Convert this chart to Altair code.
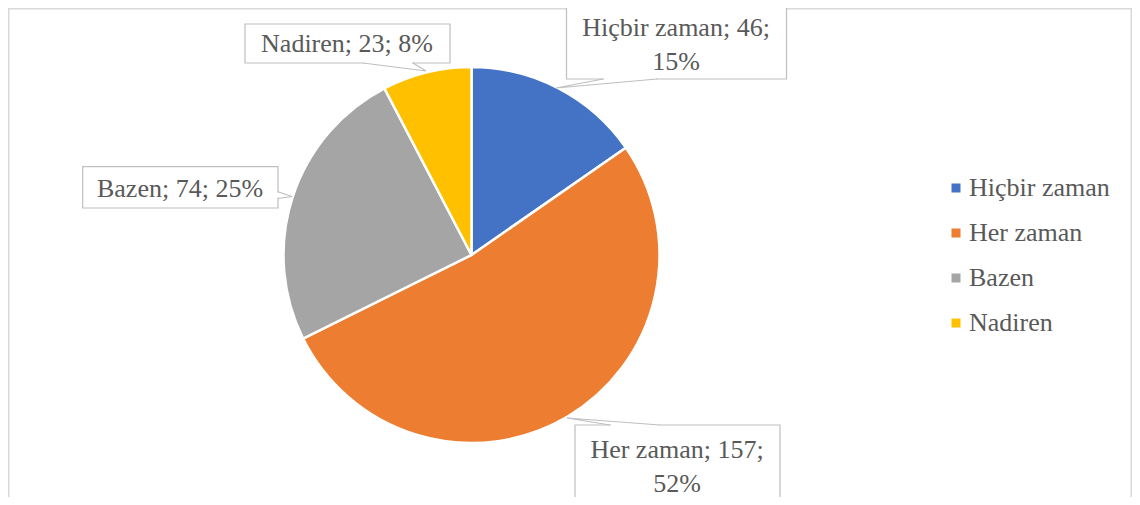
import altair as alt
import pandas as pd

# ---- data ----
categories = ["Hiçbir zaman", "Her zaman", "Bazen", "Nadiren"]
counts = [46, 157, 74, 23]
colors = ["#4472C4", "#ED7D31", "#A5A5A5", "#FFC000"]
wrap_after_second = [True, True, False, False]   # label text wrapped onto two lines

total = sum(counts)
percents = [round(100 * c / total) for c in counts]

# ---- layout (pixel positions, plot coords) ----
W, H = 1124, 489
CX, CY, R = 463.5, 247, 188
FONT = "Liberation Serif"
TXT = "#595959"
BOX = "#BFBFBF"

# label text centers (first line)
label_x = [668, 669, 172, 339]
label_y = [20, 442, 181, 36]
# callout boxes
box_x0 = [558.5, 567, 74.7, 237]
box_x1 = [778.5, 772, 270, 442]
box_y0 = [-1, 417, 158.7, 16]
box_y1 = [71, 491, 200, 55]
# pointer: base1, tip, base2
ptr_b1 = [(595, 71), (602, 417), (270, 183.7), (355, 55)]
ptr_tip = [(548, 80), (559, 410), (284, 188.5), (418, 63)]
ptr_b2 = [(649, 71), (652, 417), (270, 190.5), (405, 55)]

# ---- tables ----
pie_df = pd.DataFrame({"cat": categories, "n": counts, "order": list(range(len(categories)))})


def make_label(cat, n, p, wrap):
    return f"{cat}; {n};\n{p}%" if wrap else f"{cat}; {n}; {p}%"


lab_df = pd.DataFrame({
    "text": [make_label(c, n, p, w) for c, n, p, w in zip(categories, counts, percents, wrap_after_second)],
    "x": label_x, "y": label_y,
})
box_df = pd.DataFrame({"x": box_x0, "x2": box_x1, "y": box_y0, "y2": box_y1})

ptr_rows = []
cover_rows = []
for i in range(len(categories)):
    for s, (px, py) in enumerate([ptr_b1[i], ptr_tip[i], ptr_b2[i]]):
        ptr_rows.append({"id": i, "seq": s, "x": px, "y": py})
    (ax, ay), (bx, by) = ptr_b1[i], ptr_b2[i]
    if ay == by:
        cover_rows.append({"x": ax + 1, "x2": bx - 1, "y": ay, "y2": by})
    else:
        cover_rows.append({"x": ax, "x2": bx, "y": ay + 1, "y2": by - 1})
ptr_df = pd.DataFrame(ptr_rows)
cover_df = pd.DataFrame(cover_rows)

# ---- chart ----
one = pd.DataFrame({"a": [0]})
border = alt.layer(
    alt.Chart(one).mark_rule(color="#D9D9D9", strokeWidth=1.5).encode(
        x=alt.value(0.75), y=alt.value(0), y2=alt.value(H)),
    alt.Chart(one).mark_rule(color="#D9D9D9", strokeWidth=1.5).encode(
        x=alt.value(0), x2=alt.value(W - 0.75), y=alt.value(0.75)),
    alt.Chart(one).mark_rule(color="#D9D9D9", strokeWidth=1.5).encode(
        x=alt.value(W - 0.75), y=alt.value(0), y2=alt.value(H)),
)

pie = alt.Chart(pie_df).mark_arc(outerRadius=R, stroke="white", strokeWidth=2.5).encode(
    theta=alt.Theta("n:Q", stack=True),
    order=alt.Order("order:Q", sort="ascending"),
    color=alt.Color(
        "cat:N",
        sort=categories,
        scale=alt.Scale(domain=categories, range=colors),
        legend=alt.Legend(
            title=None, orient="none", legendX=935, legendY=167,
            symbolType="square", symbolSize=81, symbolStrokeWidth=0,
            labelFont=FONT, labelFontSize=26, labelColor=TXT, labelOffset=0,
            rowPadding=19, padding=0, labelLimit=300,
        ),
    ),
    x=alt.value(CX),
    y=alt.value(CY),
)

boxes = alt.Chart(box_df).mark_rect(fill="white", stroke=BOX, strokeWidth=1.2).encode(
    x=alt.X("x:Q", scale=None), x2="x2:Q",
    y=alt.Y("y:Q", scale=None), y2="y2:Q",
)

covers = alt.Chart(cover_df).mark_rule(color="white", strokeWidth=2.5).encode(
    x=alt.X("x:Q", scale=None), x2="x2:Q",
    y=alt.Y("y:Q", scale=None), y2="y2:Q",
)

pointers = alt.Chart(ptr_df).mark_line(color=BOX, strokeWidth=1.2).encode(
    x=alt.X("x:Q", scale=None),
    y=alt.Y("y:Q", scale=None),
    detail="id:N",
    order="seq:Q",
)

labels = alt.Chart(lab_df).mark_text(
    font=FONT, fontSize=26, color=TXT, align="center", baseline="middle",
    lineBreak="\n", lineHeight=34,
).encode(
    x=alt.X("x:Q", scale=None),
    y=alt.Y("y:Q", scale=None),
    text="text:N",
)

chart = alt.layer(border, pie, boxes, covers, pointers, labels).properties(
    width=W, height=H,
    autosize=alt.AutoSizeParams(type="none"),
    padding=0,
).configure_view(stroke=None)

chart.save("out.html", embed_options={"renderer": "svg", "actions": False})
